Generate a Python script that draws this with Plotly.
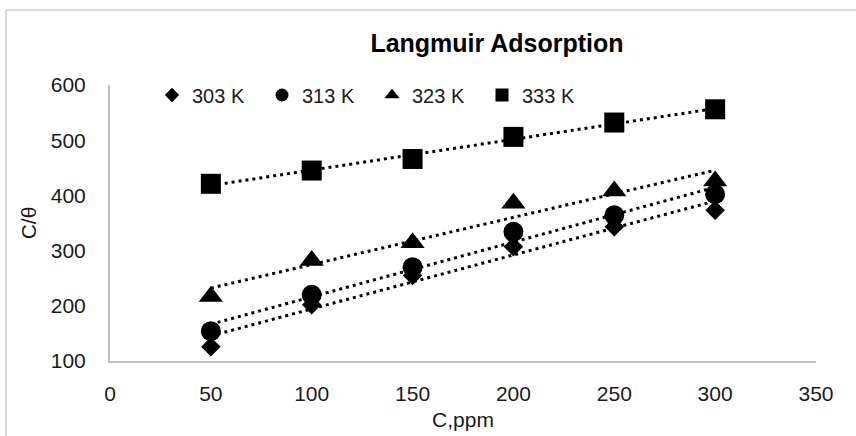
import numpy as np
import plotly.graph_objects as go

# Concentration (ppm) and C/theta values for each temperature
conc = [50, 100, 150, 200, 250, 300]
c_theta_303 = [126, 202, 255, 307, 343, 373]
c_theta_313 = [154, 220, 270, 334, 364, 402]
c_theta_323 = [217, 282, 314, 386, 408, 426]
c_theta_333 = [421, 445, 466, 506, 532, 556]

series_names = ["303 K", "313 K", "323 K", "333 K"]
series_values = [c_theta_303, c_theta_313, c_theta_323, c_theta_333]
symbols = ["diamond", "circle", "triangle-up", "square"]
marker_sizes = [15, 20, 21, 20]
legend_sizes = [11, 13, 13, 13]

x_ticks = [0, 50, 100, 150, 200, 250, 300, 350]
y_ticks = [100, 200, 300, 400, 500, 600]

FONT = "Liberation Sans, Arial, sans-serif"

fig = go.Figure()

# linear trendlines (least squares), dotted
for vals in series_values:
    slope, intercept = np.polyfit(conc, vals, 1)
    xs = [conc[0], conc[-1]]
    fig.add_trace(go.Scatter(
        x=xs, y=[slope * x + intercept for x in xs],
        mode="lines", showlegend=False, hoverinfo="skip",
        line=dict(color="black", width=3, dash="3px,4px"),
    ))

# data markers
for name, vals, sym, size in zip(series_names, series_values, symbols, marker_sizes):
    fig.add_trace(go.Scatter(
        x=conc, y=vals, mode="markers", name=name, legendgroup=name,
        showlegend=False,
        marker=dict(symbol=sym, size=size, color="black"),
    ))

# legend entries
for name, sym, size in zip(series_names, symbols, legend_sizes):
    fig.add_trace(go.Scatter(
        x=[None], y=[None], mode="markers", name=name, legendgroup=name,
        marker=dict(symbol=sym, size=size, color="black"),
    ))

axis_color = "#bfbfbf"

fig.update_layout(
    width=856, height=436,
    margin=dict(l=110, r=40, t=85, b=75, autoexpand=False),
    paper_bgcolor="white", plot_bgcolor="white",
    font=dict(family=FONT, size=20, color="#1a1a1a"),
    title=dict(
        text="<b>Langmuir Adsorption</b>",
        font=dict(family=FONT, size=25, color="black"),
        x=497 / 856, xanchor="center",
        y=1 - 43 / 436, yanchor="middle",
    ),
    legend=dict(
        orientation="h",
        x=(152 - 110) / 706, xanchor="left",
        y=(361 - 95) / 276, yanchor="middle",
        entrywidth=65, entrywidthmode="pixels",
        font=dict(family=FONT, size=20, color="#1a1a1a"),
        bgcolor="rgba(0,0,0,0)",
    ),
    xaxis=dict(
        range=[0, 350], tickvals=x_ticks, ticktext=[str(v) for v in x_ticks],
        showgrid=False, zeroline=False, automargin=False,
        showline=True, linecolor=axis_color, linewidth=2,
        ticks="", ticklabelstandoff=13,
        tickfont=dict(family=FONT, size=21, color="#1a1a1a"),
        title=dict(text="C,ppm", standoff=8,
                   font=dict(family=FONT, size=21, color="#1a1a1a")),
    ),
    yaxis=dict(
        range=[100, 600], tickvals=y_ticks, ticktext=[str(v) for v in y_ticks],
        showgrid=False, zeroline=False, automargin=False,
        showline=True, linecolor=axis_color, linewidth=2,
        ticks="", ticklabelstandoff=18,
        tickfont=dict(family=FONT, size=21, color="#1a1a1a"),
        title=dict(text="C/θ", standoff=8,
                   font=dict(family=FONT, size=21, color="#1a1a1a")),
    ),
    shapes=[
        # chart frame (top and left edges)
        dict(type="line", xref="paper", yref="paper",
             x0=(6 - 110) / 706, x1=(860 - 110) / 706,
             y0=(361 - 10) / 276, y1=(361 - 10) / 276,
             line=dict(color="#d9d9d9", width=2)),
        dict(type="line", xref="paper", yref="paper",
             x0=(6 - 110) / 706, x1=(6 - 110) / 706,
             y0=(361 - 10) / 276, y1=(361 - 440) / 276,
             line=dict(color="#d9d9d9", width=2)),
    ],
)

fig.write_html("out.html")
